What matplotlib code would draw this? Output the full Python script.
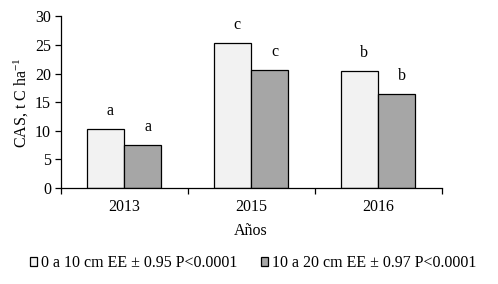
import matplotlib
matplotlib.use("Agg")
import matplotlib.pyplot as plt
import numpy as np

plt.rcParams['font.family'] = ['Liberation Serif', 'DejaVu Serif']
plt.rcParams['mathtext.fontset'] = 'custom'
plt.rcParams['mathtext.rm'] = 'Liberation Serif'
plt.rcParams['mathtext.it'] = 'Liberation Serif:italic'
plt.rcParams['mathtext.default'] = 'rm'

years = ['2013', '2015', '2016']
depth_0_10 = [10.3, 25.4, 20.4]
depth_10_20 = [7.5, 20.7, 16.4]
letters_0_10 = ['a', 'c', 'b']
letters_10_20 = ['a', 'c', 'b']
series_labels = ['0 a 10 cm EE \u00b1 0.95 P<0.0001', '10 a 20 cm EE \u00b1 0.97 P<0.0001']
yticks = [0, 5, 10, 15, 20, 25, 30]

fs = 11.5
fig = plt.figure(figsize=(4.98, 2.84), dpi=100)
ax = fig.add_axes([0.1219, 0.338, 0.887 - 0.1219, 0.9423 - 0.338])

x = np.arange(len(years))
w = 0.29
b1 = ax.bar(x - w / 2, depth_0_10, w, color='#f2f2f2', edgecolor='black', linewidth=0.9, label=series_labels[0])
b2 = ax.bar(x + w / 2, depth_10_20, w, color='#a6a6a6', edgecolor='black', linewidth=0.9, label=series_labels[1])

for xi, v, t in zip(x - w / 2, depth_0_10, letters_0_10):
    ax.annotate(t, (xi, v), xytext=(4, 14), textcoords='offset pixels', ha='center', va='baseline', fontsize=fs)
for xi, v, t in zip(x + w / 2, depth_10_20, letters_10_20):
    ax.annotate(t, (xi, v), xytext=(5, 14), textcoords='offset pixels', ha='center', va='baseline', fontsize=fs)

ax.set_xlim(-0.5, len(years) - 0.5)
ax.set_ylim(0, 30)
ax.set_yticks(yticks)
ax.set_yticklabels([str(t) for t in yticks], fontsize=fs)
ax.set_xticks(x)
ax.set_xticklabels(years, fontsize=fs)
ax.set_xticks(np.arange(len(years) + 1) - 0.5, minor=True)
ax.tick_params(axis='x', which='major', length=0, pad=8)
ax.tick_params(axis='x', which='minor', length=4, width=0.9, direction='out')
ax.tick_params(axis='y', length=4, width=0.9, direction='out', pad=3)
for s in ['top', 'right']:
    ax.spines[s].set_visible(False)
for s in ['left', 'bottom']:
    ax.spines[s].set_linewidth(0.9)

ax.set_xlabel('A\u00f1os', fontsize=fs, labelpad=6)
ax.set_ylabel('CAS, t C ha$^{-1}$', fontsize=fs, labelpad=3)

leg = fig.legend(handles=[b1, b2], labels=series_labels, loc='center', bbox_to_anchor=(0.508, 0.073),
                 ncol=2, frameon=False, fontsize=fs, handlelength=0.45, handleheight=0.45,
                 handletextpad=0.25, columnspacing=1.45)

fig.savefig('out.png', dpi=100)
